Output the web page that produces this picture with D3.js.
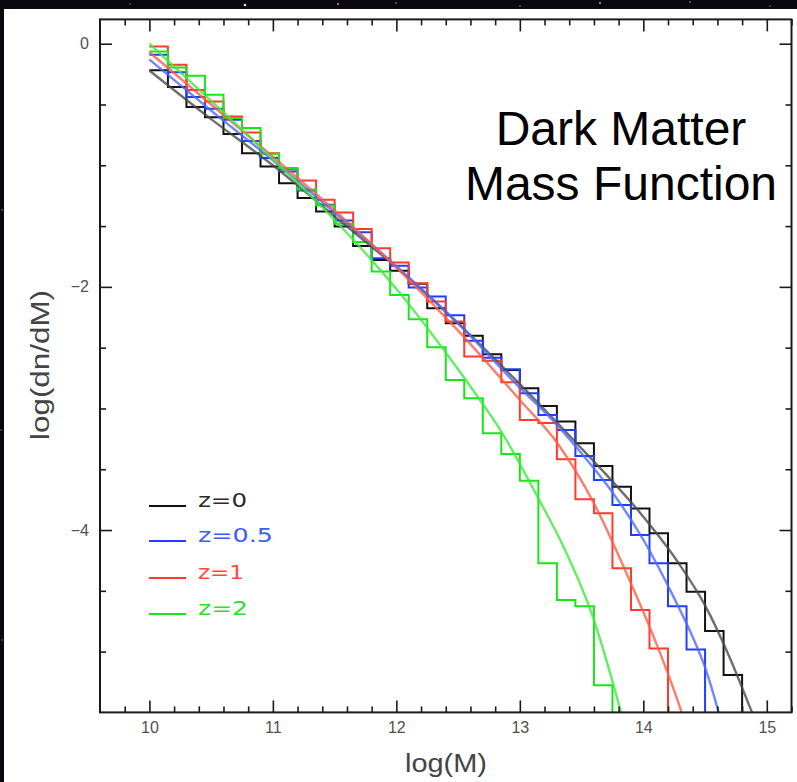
<!DOCTYPE html>
<html>
<head>
<meta charset="utf-8">
<script src="https://cdn.jsdelivr.net/npm/d3@7"></script>
<style>
  html, body { margin: 0; padding: 0; background: #07070c; }
  svg { display: block; }
</style>
</head>
<body>
<script>
// ---- Histogram bin edges in log(M) ----
const binEdges = [10.00, 10.15, 10.30, 10.45, 10.60, 10.75, 10.90, 11.05, 11.20, 11.35,
                  11.50, 11.65, 11.80, 11.95, 12.10, 12.25, 12.40, 12.55, 12.70, 12.85,
                  13.00, 13.15, 13.30, 13.45, 13.60, 13.75, 13.90, 14.05, 14.20, 14.35,
                  14.50, 14.65, 14.80, 14.95];

// ---- Binned log(dn/dM), one value per bin ----
const histZ0  = [-0.219, -0.357, -0.521, -0.604, -0.743, -0.900, -1.010, -1.147, -1.270, -1.380,
                 -1.503, -1.663, -1.778, -1.868, -1.975, -2.176, -2.299, -2.401, -2.554, -2.683,
                 -2.834, -2.979, -3.108, -3.287, -3.473, -3.643, -3.822, -4.027, -4.274, -4.508,
                 -4.831, -5.193];
const histZ05 = [-0.091, -0.235, -0.439, -0.535, -0.626, -0.800, -0.941, -1.051, -1.207, -1.325,
                 -1.454, -1.550, -1.764, -1.827, -2.005, -2.080, -2.233, -2.444, -2.582, -2.678,
                 -2.875, -3.053, -3.177, -3.391, -3.588, -3.794, -4.041, -4.274, -4.626, -4.982];
const histZ1  = [-0.022, -0.173, -0.380, -0.476, -0.598, -0.730, -0.900, -1.032, -1.125, -1.284,
                 -1.388, -1.525, -1.682, -1.800, -1.970, -2.120, -2.285, -2.573, -2.607, -2.785,
                 -3.095, -3.120, -3.418, -3.747, -3.862, -4.315, -4.658, -4.974];
const histZ2  = [-0.063, -0.195, -0.263, -0.420, -0.610, -0.694, -0.905, -1.023, -1.200, -1.330,
                 -1.480, -1.630, -1.874, -2.066, -2.266, -2.497, -2.765, -2.916, -3.204, -3.374,
                 -3.594, -4.274, -4.576, -4.626, -5.276];

// ---- Fitted mass functions (log M, log dn/dM) ----
const fitMassZ0  = [10.0, 10.5, 11.0, 11.5, 12.0, 12.5, 13.0, 13.5, 13.75, 14.0, 14.25, 14.5, 14.7, 14.88, 15.0];
const fitLogZ0   = [-0.22, -0.62, -1.00, -1.42, -1.84, -2.30, -2.80, -3.33, -3.60, -3.89, -4.22, -4.62, -5.05, -5.50, -5.80];
const fitMassZ05 = [10.0, 10.5, 11.0, 11.5, 12.0, 12.5, 13.0, 13.25, 13.5, 13.75, 14.0, 14.25, 14.4, 14.5, 14.61, 14.7];
const fitLogZ05  = [-0.13, -0.55, -0.96, -1.39, -1.83, -2.30, -2.83, -3.08, -3.37, -3.69, -4.08, -4.56, -4.88, -5.13, -5.50, -5.85];
const fitMassZ1  = [10.0, 10.5, 11.0, 11.5, 12.0, 12.5, 13.0, 13.3, 13.6, 13.9, 14.1, 14.31, 14.4];
const fitLogZ1   = [-0.07, -0.50, -0.93, -1.37, -1.84, -2.36, -2.93, -3.28, -3.78, -4.44, -4.92, -5.50, -5.80];
const fitMassZ2  = [10.0, 10.5, 11.0, 11.5, 11.8, 12.1, 12.4, 12.6, 12.85, 13.15, 13.35, 13.6, 13.82, 13.9];
const fitLogZ2   = [0.00, -0.47, -0.95, -1.45, -1.78, -2.14, -2.54, -2.82, -3.19, -3.74, -4.13, -4.74, -5.50, -5.80];

// ---- Series labels and colours ----
const seriesLabels = ["z=0", "z=0.5", "z=1", "z=2"];
const histColors   = ["#111111", "#1f3dff", "#ff3b2a", "#19e619"];
const fitColors    = ["#4a4a4a", "#4f67ff", "#ff5a48", "#3de83d"];
const textColors   = ["#2a2a2a", "#3c5cff", "#ff4a3a", "#30dd30"];

// ---- Axis ticks ----
const xMajorTicks = [10, 11, 12, 13, 14, 15];
const xMinorTicks = [9.8, 10.2, 10.4, 10.6, 10.8, 11.2, 11.4, 11.6, 11.8, 12.2, 12.4, 12.6, 12.8,
                     13.2, 13.4, 13.6, 13.8, 14.2, 14.4, 14.6, 14.8, 15.2];
const yMajorTicks = [0, -2, -4];
const yMinorTicks = [-0.5, -1, -1.5, -2.5, -3, -3.5, -4.5, -5];
const xTickLabels = ["10", "11", "12", "13", "14", "15"];
const yTickLabels = ["0", "\u22122", "\u22124"];

const W = 797, H = 782;
const svg = d3.select("body").append("svg").attr("width", W).attr("height", H);

// dark backdrop with a few stars
svg.append("rect").attr("width", W).attr("height", H).attr("fill", "#08080e");
const stars = [[245, 5, 1.3, "#cfe0ff"], [338, 4, 1.0, "#ff8a8a"], [396, 3, 0.8, "#aab"], [520, 6, 0.8, "#99a"],
               [600, 3, 0.9, "#bbc"], [690, 2, 0.8, "#aab"], [130, 4, 0.7, "#889"], [770, 6, 0.7, "#99a"],
               [2, 210, 0.8, "#99a"], [1, 430, 0.7, "#889"], [2, 640, 0.7, "#99a"]];
svg.selectAll("circle.star").data(stars).join("circle")
  .attr("class", "star").attr("cx", d => d[0]).attr("cy", d => d[1]).attr("r", d => d[2]).attr("fill", d => d[3]);

// white panel
svg.append("rect").attr("x", 4).attr("y", 9).attr("width", W - 4).attr("height", H - 9).attr("fill", "#ffffff");

const x = d3.scaleLinear().domain([9.6, 15.2]).range([100, 791.5]);
const y = d3.scaleLinear().domain([-5.5, 0.2]).range([712.4, 19.4]);

const defs = svg.append("defs");
defs.append("clipPath").attr("id", "plotClip").append("rect")
  .attr("x", x(9.6)).attr("y", y(0.2)).attr("width", x(15.2) - x(9.6)).attr("height", y(-5.5) - y(0.2));
defs.append("filter").attr("id", "soft").attr("x", "-5%").attr("y", "-5%").attr("width", "110%").attr("height", "110%")
  .append("feGaussianBlur").attr("stdDeviation", 0.6);

const plot = svg.append("g").attr("clip-path", "url(#plotClip)");

// histograms (step after each bin edge, dropping off the bottom after the last bin)
const histSeries = [histZ0, histZ05, histZ1, histZ2];
const stepLine = d3.line().x(d => x(d[0])).y(d => y(d[1])).curve(d3.curveStepAfter);
histSeries.forEach((vals, i) => {
  const pts = vals.map((v, k) => [binEdges[k], v]);
  pts.push([binEdges[vals.length], -7]);
  plot.append("path").attr("d", stepLine(pts))
    .attr("fill", "none").attr("stroke", histColors[i]).attr("stroke-width", 2)
    .attr("stroke-linejoin", "miter");
});

// fitted curves
const fitMass = [fitMassZ0, fitMassZ05, fitMassZ1, fitMassZ2];
const fitLog = [fitLogZ0, fitLogZ05, fitLogZ1, fitLogZ2];
const smoothLine = d3.line().x(d => x(d[0])).y(d => y(d[1])).curve(d3.curveMonotoneX);
fitMass.forEach((ms, i) => {
  const pts = ms.map((m, k) => [m, fitLog[i][k]]);
  plot.append("path").attr("d", smoothLine(pts))
    .attr("fill", "none").attr("stroke", fitColors[i]).attr("stroke-width", 2.4)
    .attr("stroke-opacity", 0.8).attr("filter", "url(#soft)");
});

// axes: ticks point inward on all four sides
const axisColor = "#1a1a1a";
function styleAxis(g) {
  g.select(".domain").remove();
  g.selectAll(".tick line").attr("stroke", axisColor).attr("stroke-width", 1.6);
  g.selectAll(".tick text").attr("fill", "#505050").attr("font-family", "'Liberation Sans', Arial, sans-serif")
    .attr("font-size", 16);
}
const bottomMajor = svg.append("g").attr("transform", `translate(0,${y(-5.5)})`)
  .call(d3.axisBottom(x).tickValues(xMajorTicks).tickSizeInner(-12).tickSizeOuter(0).tickPadding(9)
    .tickFormat((d, i) => xTickLabels[i]));
styleAxis(bottomMajor);
const bottomMinor = svg.append("g").attr("transform", `translate(0,${y(-5.5)})`)
  .call(d3.axisBottom(x).tickValues(xMinorTicks).tickSizeInner(-6).tickSizeOuter(0).tickFormat(""));
styleAxis(bottomMinor);
const topMajor = svg.append("g").attr("transform", `translate(0,${y(0.2)})`)
  .call(d3.axisTop(x).tickValues(xMajorTicks).tickSizeInner(-12).tickSizeOuter(0).tickFormat(""));
styleAxis(topMajor);
const topMinor = svg.append("g").attr("transform", `translate(0,${y(0.2)})`)
  .call(d3.axisTop(x).tickValues(xMinorTicks).tickSizeInner(-6).tickSizeOuter(0).tickFormat(""));
styleAxis(topMinor);
const leftMajor = svg.append("g").attr("transform", `translate(${x(9.6)},0)`)
  .call(d3.axisLeft(y).tickValues(yMajorTicks).tickSizeInner(-12).tickSizeOuter(0).tickPadding(11)
    .tickFormat((d, i) => yTickLabels[i]));
styleAxis(leftMajor);
const leftMinor = svg.append("g").attr("transform", `translate(${x(9.6)},0)`)
  .call(d3.axisLeft(y).tickValues(yMinorTicks).tickSizeInner(-6).tickSizeOuter(0).tickFormat(""));
styleAxis(leftMinor);
const rightMajor = svg.append("g").attr("transform", `translate(${x(15.2)},0)`)
  .call(d3.axisRight(y).tickValues(yMajorTicks).tickSizeInner(-12).tickSizeOuter(0).tickFormat(""));
styleAxis(rightMajor);
const rightMinor = svg.append("g").attr("transform", `translate(${x(15.2)},0)`)
  .call(d3.axisRight(y).tickValues(yMinorTicks).tickSizeInner(-6).tickSizeOuter(0).tickFormat(""));
styleAxis(rightMinor);

// frame
svg.append("rect").attr("x", x(9.6)).attr("y", y(0.2))
  .attr("width", x(15.2) - x(9.6)).attr("height", y(-5.5) - y(0.2))
  .attr("fill", "none").attr("stroke", axisColor).attr("stroke-width", 2);

// axis titles
svg.append("text").attr("x", 446).attr("y", 772).attr("text-anchor", "middle")
  .attr("font-family", "'Liberation Sans', Arial, sans-serif").attr("font-size", 25).attr("fill", "#444")
  .attr("textLength", 82).attr("lengthAdjust", "spacingAndGlyphs").text("log(M)");
svg.append("text").attr("transform", "translate(49,365) rotate(-90)").attr("text-anchor", "middle")
  .attr("font-family", "'Liberation Sans', Arial, sans-serif").attr("font-size", 25).attr("fill", "#444")
  .attr("textLength", 150).attr("lengthAdjust", "spacingAndGlyphs").text("log(dn/dM)");

// title
const title = svg.append("text").attr("text-anchor", "middle")
  .attr("font-family", "'Liberation Sans', Arial, sans-serif").attr("font-size", 48).attr("fill", "#000");
title.append("tspan").attr("x", 621).attr("y", 145).text("Dark Matter");
title.append("tspan").attr("x", 621).attr("y", 200).text("Mass Function");

// legend
const legendRows = [506, 541, 578, 614];
const legendWidths = [49, 75, 46, 50];
const legend = svg.append("g");
seriesLabels.forEach((lab, i) => {
  legend.append("line").attr("x1", 149).attr("x2", 186).attr("y1", legendRows[i]).attr("y2", legendRows[i])
    .attr("stroke", histColors[i]).attr("stroke-width", 2);
  legend.append("text").attr("x", 198).attr("y", legendRows[i] + 1)
    .attr("font-family", "'DejaVu Sans', sans-serif").attr("font-size", 20).attr("fill", textColors[i])
    .attr("textLength", legendWidths[i]).attr("lengthAdjust", "spacingAndGlyphs").text(lab);
});
</script>
</body>
</html>
